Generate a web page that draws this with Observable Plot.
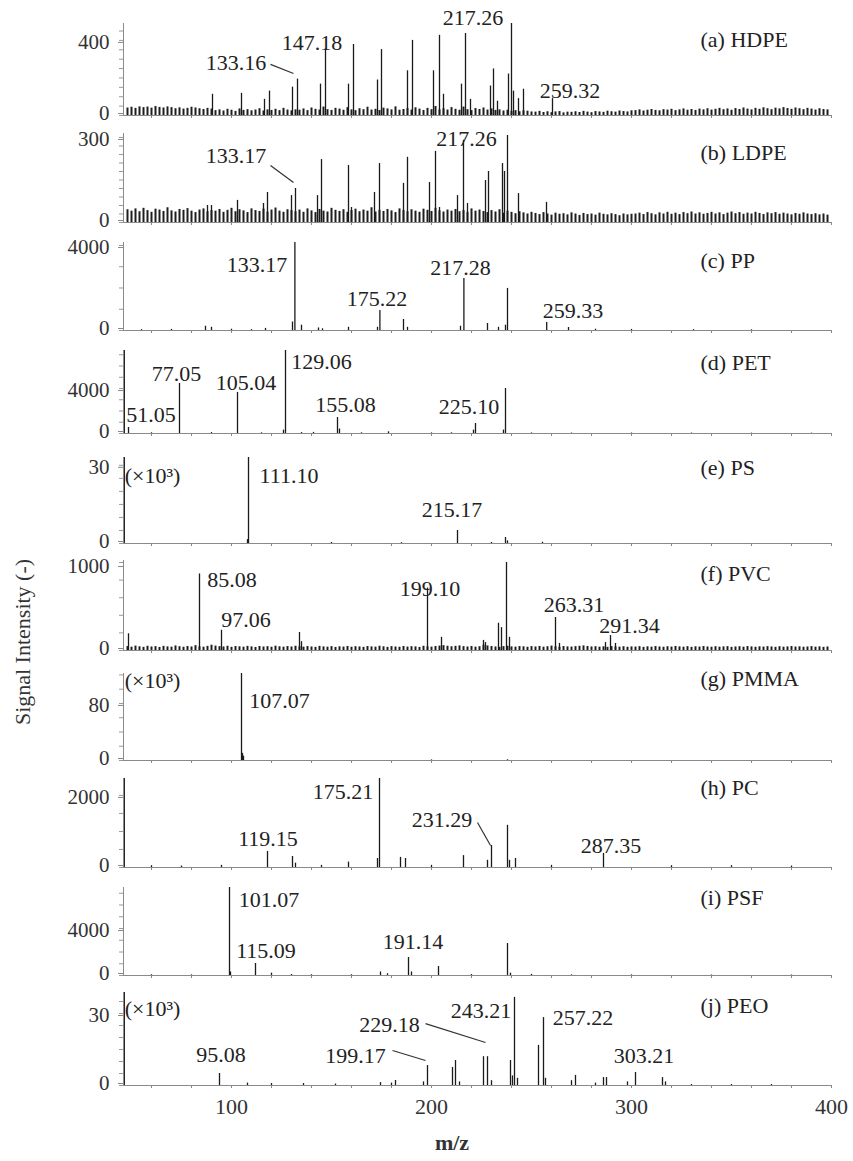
<!DOCTYPE html>
<html><head><meta charset="utf-8">
<script src="https://cdn.jsdelivr.net/npm/d3@7"></script>
<script src="https://cdn.jsdelivr.net/npm/@observablehq/plot@0.6"></script>
<style>
body{margin:0;background:#fff;}
#chart{position:relative;width:853px;height:1161px;background:#fff;font-family:'Liberation Serif','DejaVu Serif',serif;color:#222;overflow:hidden}
#chart svg{position:absolute;left:0;overflow:visible}
#chart svg text{font-family:'Liberation Serif','DejaVu Serif',serif}
.ytitle{position:absolute;left:23px;top:642px;transform:translate(-50%,-50%) rotate(-90deg);white-space:nowrap;font-size:22px;color:#333;font-family:'Liberation Serif','DejaVu Serif',serif}
.xtitle{position:absolute;left:452px;top:1143px;transform:translate(-50%,-50%);font-size:22px;font-weight:bold;color:#333;font-family:'Liberation Serif','DejaVu Serif',serif}
</style></head><body><div id="chart"></div>
<script>
// ---------- data (m/z, intensity) ----------
const mzDomain = [46, 400];
const xTicksMinor = [60,80,100,120,140,160,180,200,220,240,260,280,300,320,340,360,380,400];
const xTickLabels = [100, 200, 300, 400];
const noiseStart = 48, noiseStep = 2;

const hdpePeaks = [[90.5,113],[105,118],[116.5,86],[119,130],[130.5,151],[133,194],[144.5,167],[147,356],[158.5,167],[161,378],[173,189],[175,351],[188,238],[190.5,400],[201,238],[204,427],[206,113],[215,167],[217,437],[219.5,86],[229.5,157],[231,248],[233,76],[238.5,221],[240,490],[241,130],[243.5,90],[246,140],[260.5,90]];
const hdpeNoise = [40,44,38,46,42,45,39,48,43,40,46,42,36,41,34,38,44,40,36,32,38,34,
 26,30,24,33,28,22,35,27,31,25,29,36,24,30,27,33,26,38,29,25,
 30,28,35,26,40,33,29,45,31,27,38,34,28,42,30,26,36,31,44,29,33,27,39,35,30,46,28,32,37,29,41,34,27,38,31,48,30,36,29,42,33,28,45,31,26,37,32,40,29,35,27,30,24,28,22,26,20,25,23,19,
 18,22,16,20,15,19,21,14,18,17,20,16,22,18,15,21,19,17,23,20,18,24,21,19,25,
 26,30,24,28,32,27,25,31,29,33,26,30,35,28,32,27,34,30,36,29,33,38,31,35,28,37,32,40,34,30,38,33,41,36,31,39,35,42,37,33,40,36,31,38,34,29,36,32,30];
const hdpeLabels = [["133.16",102.25,282],["147.18",140.25,389],["217.26",220.75,517],["259.32",269.25,133]];
const hdpeLeaders = [[119.5,272,131,224]];

const ldpePeaks = [[88,60],[90,60],[103,78],[116,67],[118,106],[130,95],[132,120],[143,95],[145,222],[158.5,201],[160,53],[171.5,106],[174,208],[186,138],[188,230],[199,141],[202,251],[204,53],[213,95],[216,290],[218,67],[227,148],[228.5,180],[235.5,208],[236.5,180],[238,307],[243.5,102],[257.5,71]];
const ldpeNoise = [45,40,48,38,50,42,36,47,44,39,52,41,37,46,43,49,40,35,44,48,38,42,
 40,46,36,43,50,38,45,41,35,48,42,39,47,37,44,51,40,36,45,42,
 38,44,36,48,41,35,46,40,37,50,43,39,45,36,42,47,38,44,40,52,37,43,39,46,41,35,48,42,38,45,40,36,47,43,39,50,41,37,44,40,46,38,42,36,48,40,44,39,35,42,37,45,33,40,36,31,38,34,30,36,
 32,28,35,30,26,33,29,31,27,34,30,25,32,28,30,26,33,29,27,31,28,24,30,27,29,
 30,33,28,35,31,27,34,30,36,29,33,28,35,31,37,30,34,29,32,36,30,34,28,33,37,31,35,29,33,30,36,32,28,34,31,35,29,33,30,27,32,29,34,30,28,31,27,30,26];
const ldpeLabels = [["133.17",102.25,236],["217.26",217.5,293]];
const ldpeLeaders = [[119.5,201,131,141]];

const ppPeaks = [[55,40],[70,50],[87,200],[90,150],[100,60],[110,40],[117,100],[130.5,400],[131.7,4140],[135,250],[143.5,120],[145.5,80],[158.5,150],[173,150],[174.2,940],[186,520],[188,150],[214.5,200],[216.2,2450],[228,330],[233.5,150],[237,250],[238,1980],[257.6,380],[268.5,140],[282,60],[300,50],[331,40],[360,30]];
const ppLabels = [["133.17",112.75,3106],["175.22",172.75,1506],["217.28",214.5,2965],["259.33",270.75,941]];

const petPeaks = [[46.4,7380],[48.5,530],[60,60],[74,4450],[90,80],[103,3650],[115,60],[126,300],[127,7380],[135,80],[141,100],[153,1420],[154,400],[165,60],[178.5,150],[200,50],[210,60],[221,300],[222,890],[236,300],[237,4000],[250,50],[270,40],[300,40],[330,40],[360,30],[390,30]];
const petLabels = [["77.05",72.5,5334],["51.05",59.75,1689],["105.04",107.25,4534],["129.06",145,6400],["155.08",157,2578],["225.10",218.75,2400]];

const psPeaks = [[46.4,33],[108.5,33],[108,1.5],[150,0.4],[185,0.3],[213,5.0],[230,0.4],[237,2.3],[238,1.0],[255.5,0.5]];
const psLabels = [["111.10",128.75,25.8],["215.17",210.25,12.7]];

const pvcPeaks = [[48.5,190],[84,870],[95,230],[134,205],[135,100],[198,710],[205,150],[226,115],[227,90],[233.5,310],[235,260],[237.5,1000],[239,150],[262,375],[264,80],[287,90],[289.5,170],[292,80]];
const pvcNoise = [45,38,50,42,36,48,40,44,35,47,41,38,52,43,37,46,40,55,42,38,47,60,
 50,44,40,48,36,45,42,38,47,41,35,46,40,44,37,49,42,38,45,40,
 48,42,38,45,40,36,47,41,38,44,35,42,39,46,37,43,40,36,45,41,38,48,42,36,44,40,37,46,39,43,41,35,48,42,38,45,50,55,48,42,47,52,44,40,46,38,43,60,52,45,40,36,44,48,41,38,45,42,37,44,
 40,46,38,43,50,42,37,45,41,39,44,48,52,46,40,43,38,42,36,44,40,38,43,37,41,
 39,44,36,42,38,45,40,37,43,39,46,41,38,44,36,42,39,45,40,37,43,38,41,44,36,40,43,38,45,41,37,42,39,44,40,36,43,38,41,45,39,42,37,40,44,38,41,36,40];
const pvcLabels = [["85.08",100.25,807],["97.06",107.25,352],["199.10",199.25,704],["263.31",271.25,523],["291.34",299,284]];

const pmmaPeaks = [[105,122],[105.5,10],[106,6],[200,0.8],[238,1.0]];
const pmmaLabels = [["107.07",124,84]];

const pcPeaks = [[46.4,2470],[60,50],[75,40],[95,60],[118,445],[130.5,305],[132,120],[145,60],[158.5,150],[173,250],[174,2470],[184.5,280],[187,250],[200,60],[216,330],[228,200],[230,610],[238,1170],[239,200],[242,250],[260,60],[286,390],[320,50],[350,50],[380,40]];
const pcLabels = [["175.21",155.75,2083],["119.15",118.25,806],["231.29",205.25,1306],["287.35",289.75,611]];
const pcLeaders = [[223,1250,229.5,611]];

const psfPeaks = [[60,60],[80,50],[99,7490],[99.5,300],[112,1020],[120,200],[130,80],[140,60],[160,60],[174.5,300],[178,150],[188.5,1530],[190,300],[203.5,770],[220,80],[238,2720],[239.5,200],[250,100],[270,50],[300,50],[340,40],[380,40]];
const psfLabels = [["101.07",118.75,6468],["115.09",117.25,2128],["191.14",190.75,2894]];

const peoPeaks = [[46.4,38.75],[94,5.0],[108,1.0],[120,0.8],[136,0.8],[152,0.6],[174.5,1.2],[180,1.0],[182,2.1],[196,1.5],[198,8.3],[210.5,7.5],[212,10.4],[214,1.5],[226,12],[228,12],[230,2],[239.5,10.4],[240.5,4],[241.5,36.7],[243,3],[253.5,16.7],[256,28.3],[257,3],[270,2],[272,4.2],[282,1.0],[286,3.3],[287.5,3.3],[298,1.5],[302,5.4],[315.5,3.3],[317,1.5],[330,0.4],[350,0.4],[370,0.4]];
const peoLabels = [["95.08",94.75,12.9],["199.17",162,12.5],["229.18",179,25.4],["243.21",224.75,31.25],["257.22",275.75,28.3],["303.21",306.25,12.5]];
const peoLeaders = [[180.5,14.6,197,10.4],[197,25.8,227,17.9]];

const unitText = "(×10³)";

// ---------- layout ----------
const panels = [
  {name:"(a) HDPE", top:23,  base:115,  ymax:490,   major:400,  minor:50,   peaks:hdpePeaks, noise:hdpeNoise, labels:hdpeLabels, leaders:hdpeLeaders, nameY:400},
  {name:"(b) LDPE", top:133, base:222,  ymax:314,   major:300,  minor:30,   peaks:ldpePeaks, noise:ldpeNoise, labels:ldpeLabels, leaders:ldpeLeaders, nameY:244},
  {name:"(c) PP",   top:242, base:330,  ymax:4140,  major:4000, minor:1000, peaks:ppPeaks,   labels:ppLabels,   nameY:3294},
  {name:"(d) PET",  top:350, base:433,  ymax:7380,  major:4000, minor:1000, peaks:petPeaks,  labels:petLabels,  nameY:6312},
  {name:"(e) PS",   top:457, base:543,  ymax:33,    major:30,   minor:5,    peaks:psPeaks,   labels:psLabels,   nameY:28.8, unitY:25.8},
  {name:"(f) PVC",  top:560, base:650,  ymax:1023,  major:1000, minor:200,  peaks:pvcPeaks,  noise:pvcNoise,  labels:pvcLabels,  nameY:875, majorDy:4},
  {name:"(g) PMMA", top:673, base:760,  ymax:122,   major:80,   minor:20,   peaks:pmmaPeaks, labels:pmmaLabels, nameY:115, unitY:111},
  {name:"(h) PC",   top:778, base:867,  ymax:2470,  major:2000, minor:500,  peaks:pcPeaks,   labels:pcLabels,   leaders:pcLeaders, nameY:2195},
  {name:"(i) PSF",  top:887, base:975,  ymax:7490,  major:4000, minor:1000, peaks:psfPeaks,  labels:psfLabels,  nameY:6638},
  {name:"(j) PEO",  top:992, base:1085, ymax:38.75, major:30,   minor:5,    peaks:peoPeaks,  labels:peoLabels,  leaders:peoLeaders, nameY:33.3, unitY:32.1}
];

const FONT = "'Liberation Serif','DejaVu Serif',serif";
const FS = 22, TFS = 21;
const nameX = 334.5;
const root = document.getElementById("chart");

panels.forEach((p, k) => {
  const last = k === panels.length - 1;
  const mt = 30, mb = last ? 50 : 8;
  const height = mt + (p.base - p.top) + mb;
  const peakRows = p.peaks.map(([mz, v]) => ({mz, v}));
  const noiseRows = (p.noise || []).map((v, i) => ({mz: noiseStart + i * noiseStep, v}));
  const labelRows = p.labels.map(([t, mz, v]) => ({t, mz, v}));
  const leaderRows = (p.leaders || []).map(([x1, y1, x2, y2]) => ({x1, y1, x2, y2}));
  const minor = d3.range(0, p.ymax + 1e-9, p.minor);
  const yAxisText = {tickSize: 5, tickPadding: 9, tickFormat: d3.format("d"), stroke: "#888", fill: "#333", fontSize: TFS, label: null};
  const marks = [
    Plot.ruleX(noiseRows, {x: "mz", y1: 0, y2: "v", stroke: "#1e1e1e", strokeWidth: 2}),
    Plot.ruleX(peakRows, {x: "mz", y1: 0, y2: "v", stroke: "#1a1a1a", strokeWidth: 1.3}),
    Plot.ruleY([0], {stroke: "#8a8a8a"}),
    Plot.ruleX([mzDomain[0]], {y1: 0, y2: p.ymax, stroke: "#8a8a8a"}),
    Plot.axisY({ticks: minor, tickSize: 4, tickFormat: () => "", stroke: "#9a9a9a", label: null}),
    Plot.axisY({...yAxisText, ticks: [0], dy: -2}),
    Plot.axisY({...yAxisText, ticks: [p.major], dy: p.majorDy ?? 2}),
    Plot.axisX({ticks: xTicksMinor, tickSize: 3, tickFormat: () => "", stroke: "#888", label: null}),
    Plot.link(leaderRows, {x1: "x1", y1: "y1", x2: "x2", y2: "y2", stroke: "#333", strokeWidth: 1.2}),
    Plot.text(labelRows, {x: "mz", y: "v", text: "t", fontSize: FS, fill: "#222"}),
    Plot.text([p.name], {x: nameX, y: p.nameY, text: d => d, textAnchor: "start", fontSize: FS, fill: "#222"})
  ];
  if (p.unitY !== undefined) {
    marks.push(Plot.text([unitText], {x: 46.6, y: p.unitY, text: d => d, textAnchor: "start", fontSize: FS, fill: "#222"}));
  }
  if (last) {
    marks.push(Plot.axisX({ticks: xTickLabels, tickSize: 3, tickPadding: 10, tickFormat: d3.format("d"), stroke: "#888", fill: "#333", fontSize: FS, label: null}));
  }
  const svg = Plot.plot({
    width: 853, height,
    marginLeft: 123, marginRight: 22, marginTop: mt, marginBottom: mb,
    x: {domain: mzDomain, axis: null, label: null},
    y: {domain: [0, p.ymax], axis: null, label: null},
    style: {fontFamily: FONT, fontSize: FS + "px", background: "transparent", overflow: "visible", color: "#222"},
    marks
  });
  svg.style.top = (p.top - mt) + "px";
  root.appendChild(svg);
});

const yt = document.createElement("div");
yt.className = "ytitle"; yt.textContent = "Signal Intensity (-)";
root.appendChild(yt);
const xt = document.createElement("div");
xt.className = "xtitle"; xt.textContent = "m/z";
root.appendChild(xt);
</script>
</body></html>
